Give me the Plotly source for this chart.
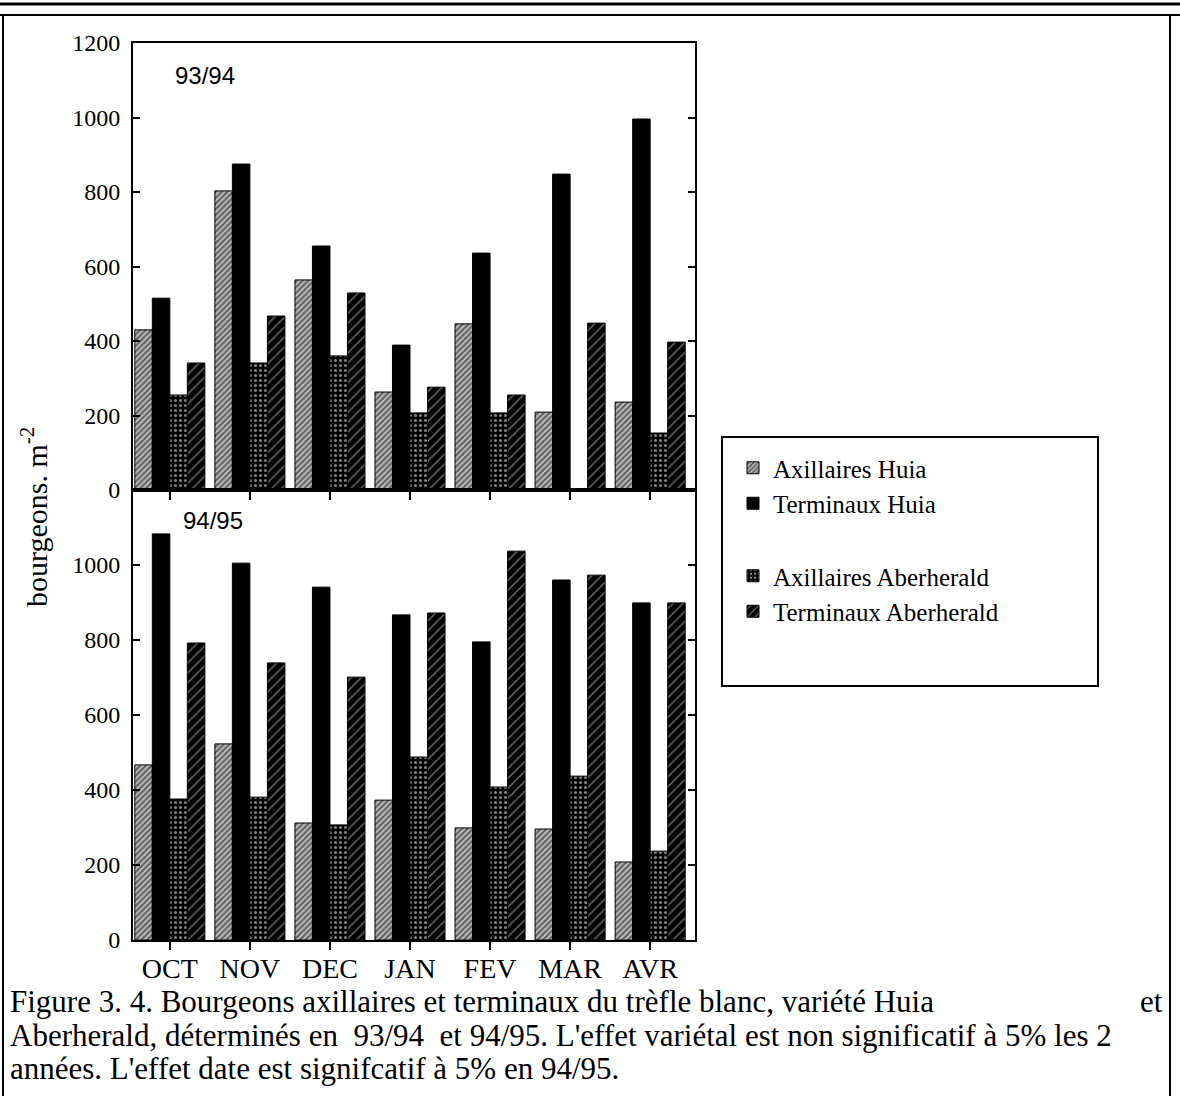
import plotly.graph_objects as go

W, H = 1180, 1096

months = ["OCT", "NOV", "DEC", "JAN", "FEV", "MAR", "AVR"]
series_names = ["Axillaires Huia", "Terminaux Huia", "Axillaires Aberherald", "Terminaux Aberherald"]

# 93/94
axil_huia_9394 = [430, 803, 564, 263, 446, 209, 236]
term_huia_9394 = [515, 875, 655, 389, 636, 848, 996]
axil_aber_9394 = [255, 341, 360, 207, 207, 0, 153]
term_aber_9394 = [341, 467, 529, 276, 255, 448, 397]

# 94/95
axil_huia_9495 = [467, 523, 312, 373, 299, 296, 208]
term_huia_9495 = [1083, 1005, 941, 867, 795, 960, 899]
axil_aber_9495 = [376, 381, 307, 488, 408, 437, 237]
term_aber_9495 = [792, 739, 701, 872, 1037, 973, 899]

y_ticks_top = [0, 200, 400, 600, 800, 1000, 1200]
y_ticks_bottom = [0, 200, 400, 600, 800, 1000]


def px(x):
    return x / W


def py(y):
    return 1 - y / H


styles = [
    dict(color="white", pattern=dict(shape="/", fgcolor="black", bgcolor="#c8c8c8", size=4, solidity=0.6)),
    dict(color="black"),
    dict(color="black", pattern=dict(shape=".", fgcolor="white", bgcolor="black", size=5, solidity=0.3)),
    dict(color="black", pattern=dict(shape="/", fgcolor="#e0e0e0", bgcolor="black", size=7, solidity=0.2)),
]
groups = ["huia", "huia", "aber", "aber"]

fig = go.Figure()
top_data = [axil_huia_9394, term_huia_9394, axil_aber_9394, term_aber_9394]
bot_data = [axil_huia_9495, term_huia_9495, axil_aber_9495, term_aber_9495]
idx = list(range(len(months)))

for i, (name, vals) in enumerate(zip(series_names, top_data)):
    st = styles[i]
    fig.add_trace(go.Bar(
        x=idx, y=vals, name=name, xaxis="x", yaxis="y",
        legendgroup=groups[i], showlegend=True,
        marker=dict(color=st["color"], pattern=st.get("pattern"),
                    line=dict(color="black", width=1)),
    ))
for i, (name, vals) in enumerate(zip(series_names, bot_data)):
    st = styles[i]
    fig.add_trace(go.Bar(
        x=idx, y=vals, name=name, xaxis="x2", yaxis="y2",
        legendgroup=groups[i], showlegend=False,
        marker=dict(color=st["color"], pattern=st.get("pattern"),
                    line=dict(color="black", width=1)),
    ))

axis_font = dict(family="Liberation Serif", size=24, color="black")
xdom = [px(133), px(695)]
xrange = [-0.46, 6.56]

common_x = dict(domain=xdom, range=xrange, tickvals=idx, ticks="outside", ticklen=8,
                tickwidth=2, tickcolor="black", showline=True, linecolor="black",
                linewidth=2, mirror=True, showgrid=False, zeroline=False, automargin=False)
common_y = dict(range=[0, 1200], ticks="inside", ticklen=7, tickwidth=2, tickcolor="black",
                showline=True, linecolor="black", linewidth=2, mirror="ticks",
                showgrid=False, zeroline=False, tickfont=axis_font, ticklabelstandoff=6,
                automargin=False)

fig.update_layout(
    width=W, height=H, autosize=False,
    margin=dict(l=0, r=0, t=0, b=0, pad=0, autoexpand=False),
    paper_bgcolor="white", plot_bgcolor="white",
    barmode="group", bargap=0.125, bargroupgap=0,
    font=dict(family="Liberation Serif", color="black"),
    xaxis=dict(anchor="y", showticklabels=False, **common_x),
    yaxis=dict(domain=[py(490), py(43)], anchor="x", tickvals=y_ticks_top, **common_y),
    xaxis2=dict(anchor="y2", ticktext=months, showticklabels=True, ticklabelstandoff=-6,
                tickfont=dict(family="Liberation Serif", size=28, color="black"), **common_x),
    yaxis2=dict(domain=[py(940), py(490)], anchor="x2", tickvals=y_ticks_bottom, **common_y),
    legend=dict(x=px(733), y=py(445), xanchor="left", yanchor="top",
                traceorder="grouped", tracegroupgap=37,
                font=dict(family="Liberation Serif", size=25, color="black"),
                bgcolor="rgba(0,0,0,0)", borderwidth=0, itemclick=False),
)

shapes = [
    dict(type="line", xref="paper", yref="paper", x0=0, x1=1, y0=py(4), y1=py(4),
         line=dict(color="black", width=3)),
    dict(type="line", xref="paper", yref="paper", x0=0, x1=1, y0=py(15), y1=py(15),
         line=dict(color="black", width=2)),
    dict(type="line", xref="paper", yref="paper", x0=px(3), x1=px(3), y0=py(15), y1=0,
         line=dict(color="black", width=2)),
    dict(type="line", xref="paper", yref="paper", x0=px(1170), x1=px(1170), y0=py(15), y1=0,
         line=dict(color="black", width=2)),
    dict(type="rect", xref="paper", yref="paper", x0=px(722), x1=px(1098), y0=py(686), y1=py(437),
         line=dict(color="black", width=2)),
]
fig.update_layout(shapes=shapes)

cap_font = dict(family="Liberation Serif", size=31, color="black")
ann = [
    dict(text="93/94", x=px(173), y=py(75), xanchor="left", yanchor="middle",
         font=dict(family="Liberation Sans", size=24, color="black")),
    dict(text="94/95", x=px(181), y=py(520), xanchor="left", yanchor="middle",
         font=dict(family="Liberation Sans", size=24, color="black")),
    dict(text="bourgeons. m<sup>-2</sup>", x=px(34), y=py(517), xanchor="center", yanchor="middle",
         textangle=-90, font=dict(family="Liberation Serif", size=30, color="black")),
    dict(text="Figure 3. 4. Bourgeons axillaires et terminaux du trèfle blanc, variété Huia",
         x=px(8), y=py(1001), xanchor="left", yanchor="middle", font=cap_font),
    dict(text="et", x=px(1165), y=py(1001), xanchor="right", yanchor="middle", font=cap_font),
    dict(text="Aberherald, déterminés en  93/94  et 94/95. L'effet variétal est non significatif à 5% les 2",
         x=px(8), y=py(1035), xanchor="left", yanchor="middle", font=cap_font),
    dict(text="années. L'effet date est signifcatif à 5% en 94/95.",
         x=px(8), y=py(1068), xanchor="left", yanchor="middle", font=cap_font),
]
for a in ann:
    a.update(xref="paper", yref="paper", showarrow=False)
fig.update_layout(annotations=ann)

fig.write_html("out.html", config={"displayModeBar": False},
               post_script="document.body.style.margin='0';document.body.style.padding='0';")
